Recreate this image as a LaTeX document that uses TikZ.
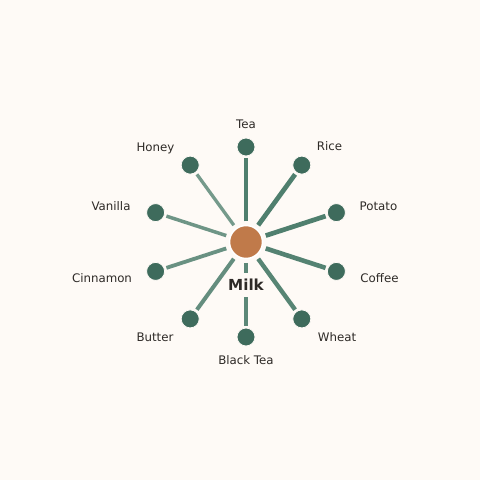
\documentclass[tikz,border=0pt]{standalone}
\usepackage{fontspec}
\setmainfont{DejaVu Sans}
\definecolor{bgcol}{HTML}{FEFAF6}
\definecolor{leafcol}{HTML}{3E6B5C}
\definecolor{spokecol}{HTML}{4F7F6E}
\definecolor{milkcol}{HTML}{C07A4A}
\definecolor{labelcol}{HTML}{2E2A27}
\begin{document}
\begin{tikzpicture}[x=1pt,y=-1pt,
  leaf/.style={circle,fill=leafcol,draw=bgcol,line width=0.8pt,minimum size=18pt,inner sep=0pt},
  hub/.style={circle,fill=milkcol,draw=white,line width=1.5pt,minimum size=33pt,inner sep=0pt},
  spoke/.style={draw=spokecol,shorten <=3.5pt,shorten >=2pt},
  lbl/.style={text=labelcol,font=\fontsize{11.8}{14}\selectfont,inner sep=0pt,text height=8.6pt,text depth=0pt}]
 \fill[bgcol] (0,0) rectangle (480,480);
 \useasboundingbox (0,0) rectangle (480,480);
 \node[hub] (milk) at (246,242) {};
 \node[leaf] (tea) at (246,147) {};
 \node[leaf] (rice) at (301.8,165.1) {};
 \node[leaf] (potato) at (336.4,212.6) {};
 \node[leaf] (coffee) at (336.4,271.4) {};
 \node[leaf] (wheat) at (301.8,318.9) {};
 \node[leaf] (blacktea) at (246,337) {};
 \node[leaf] (butter) at (190.2,318.9) {};
 \node[leaf] (cinnamon) at (155.6,271.4) {};
 \node[leaf] (vanilla) at (155.6,212.6) {};
 \node[leaf] (honey) at (190.2,165.1) {};
 \draw[spoke,line width=4.7pt] (milk) -- (tea);
 \draw[spoke,line width=4.7pt] (milk) -- (rice);
 \draw[spoke,line width=4.7pt] (milk) -- (potato);
 \draw[spoke,line width=4.6pt,opacity=0.97] (milk) -- (coffee);
 \draw[spoke,line width=4.4pt,opacity=0.95] (milk) -- (wheat);
 \draw[spoke,line width=4.2pt,opacity=0.92] (milk) -- (blacktea);
 \draw[spoke,line width=4pt,opacity=0.88] (milk) -- (butter);
 \draw[spoke,line width=3.8pt,opacity=0.85] (milk) -- (cinnamon);
 \draw[spoke,line width=3.5pt,opacity=0.82] (milk) -- (vanilla);
 \draw[spoke,line width=3.3pt,opacity=0.78] (milk) -- (honey);
 \node[text=labelcol,font=\fontsize{15.2}{17}\selectfont\bfseries,fill=bgcol,inner xsep=2pt,inner ysep=6pt] (milklabel) at (246,285) {Milk};
 \node[lbl] (tealabel) at (246,123.7) {Tea};
 \node[lbl] (ricelabel) at (329.5,146) {Rice};
 \node[lbl] (potatolabel) at (378.5,206) {Potato};
 \node[lbl] (coffeelabel) at (379.5,278) {Coffee};
 \node[lbl] (wheatlabel) at (337,337) {Wheat};
 \node[lbl] (blacktealabel) at (246,359.7) {Black Tea};
 \node[lbl] (butterlabel) at (155,337) {Butter};
 \node[lbl] (cinnamonlabel) at (102,278) {Cinnamon};
 \node[lbl] (vanillalabel) at (111,206) {Vanilla};
 \node[lbl] (honeylabel) at (155.5,147) {Honey};
\end{tikzpicture}
\end{document}
